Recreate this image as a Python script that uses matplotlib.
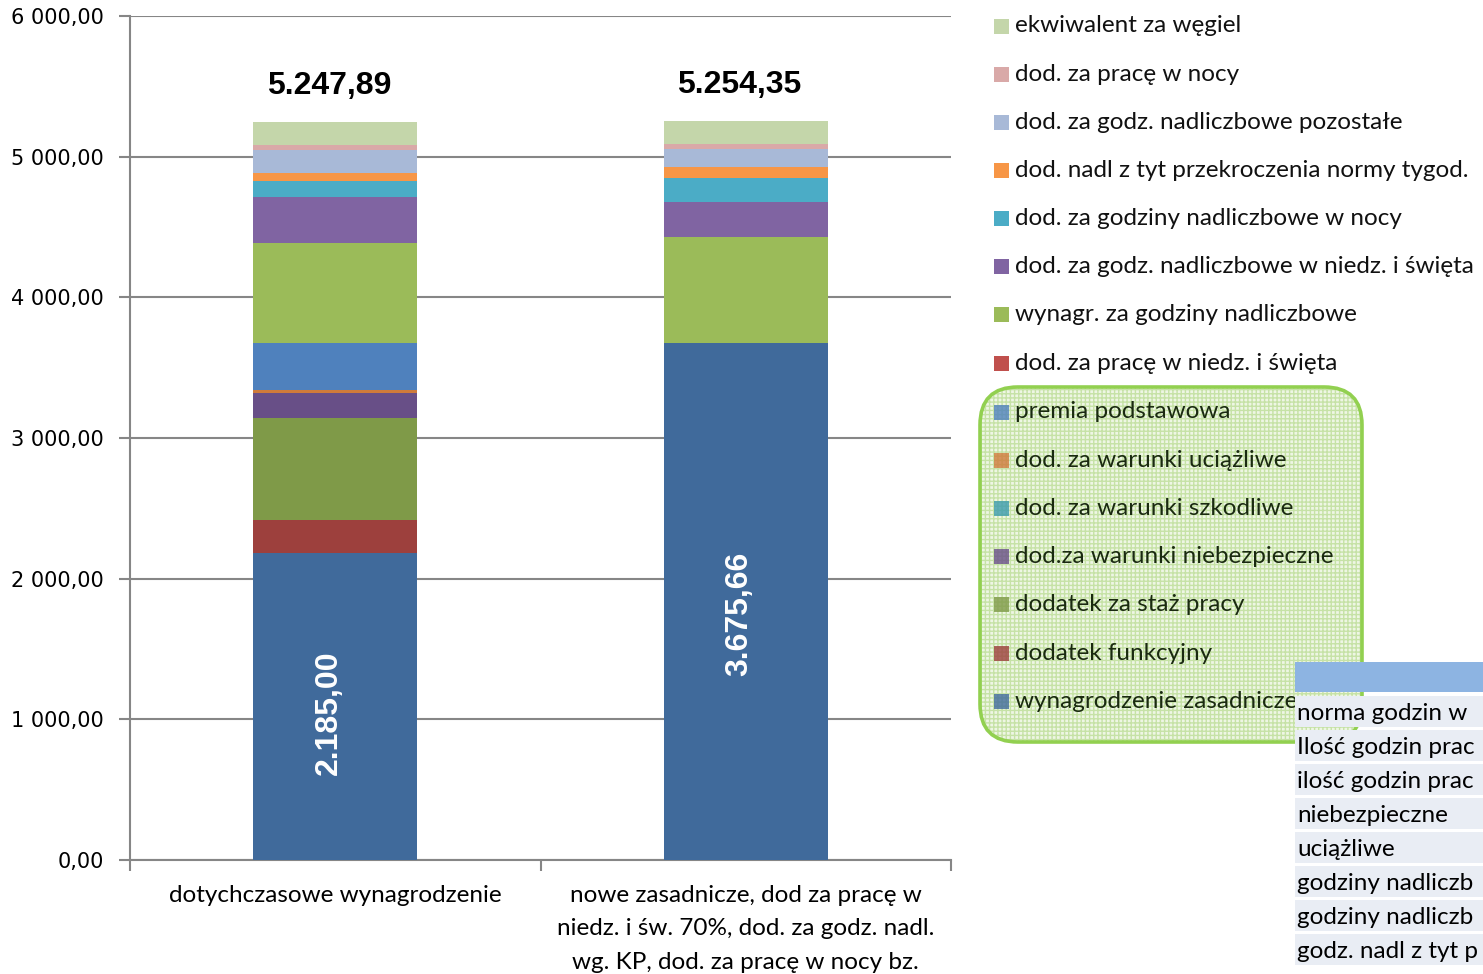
import matplotlib
matplotlib.use("Agg")
import matplotlib.pyplot as plt
from matplotlib.patches import Rectangle, FancyBboxPatch
from matplotlib.transforms import IdentityTransform
from matplotlib.ticker import FuncFormatter
import numpy as np

W, H = 1483, 974

# ── Data ─────────────────────────────────────────────────────────────────────
categories = [
    "dotychczasowe wynagrodzenie",
    "nowe zasadnicze, dod za pracę w\nniedz. i św. 70%, dod. za godz. nadl.\nwg. KP, dod. za pracę w nocy bz.",
]

# stacking order, bottom -> top
components = [
    "wynagrodzenie zasadnicze",
    "dodatek funkcyjny",
    "dodatek za staż pracy",
    "dod.za warunki niebezpieczne",
    "dod. za warunki szkodliwe",
    "dod. za warunki uciążliwe",
    "premia podstawowa",
    "dod. za pracę w niedz. i święta",
    "wynagr. za godziny nadliczbowe",
    "dod. za godz. nadliczbowe w niedz. i święta",
    "dod. za godziny nadliczbowe w nocy",
    "dod. nadl z tyt przekroczenia normy tygod.",
    "dod. za godz. nadliczbowe pozostałe",
    "dod. za pracę w nocy",
    "ekwiwalent za węgiel",
]
old_pay = [2185.00, 232.0, 727.0, 176.0, 0.0, 21.0, 332.0, 0.0,
           716.0, 327.0, 111.0, 55.0, 165.0, 35.0, 165.89]
new_pay = [3675.66, 0.0, 0.0, 0.0, 0.0, 0.0, 0.0, 0.0,
           752.0, 247.0, 171.0, 78.0, 128.0, 36.0, 166.69]
colors = [
    "#406a9b", "#9d403d", "#7f9a48", "#684f87", "#3c9bae", "#cf7b3b",
    "#4f81bd", "#c0504d", "#9bbb59", "#8064a2", "#4bacc6", "#f79646",
    "#a8b9d7", "#d9a9a8", "#c4d6aa",
]

# fragment of a table that sticks out of the right edge of the picture
table_rows = [
    "norma godzin w", "Ilość godzin prac", "ilość godzin prac",
    "niebezpieczne", "uciążliwe", "godziny nadliczb",
    "godziny nadliczb", "godz. nadl z tyt p",
]


def pl_num(v, sep=" "):
    s = f"{v:,.2f}"
    return s.replace(",", "X").replace(".", ",").replace("X", sep)


# ── Figure ───────────────────────────────────────────────────────────────────
fig = plt.figure(figsize=(W / 100, H / 100), dpi=100)
ax = fig.add_axes([130 / W, (H - 860) / H, 821 / W, 844 / H])

x = np.arange(len(categories))
series = np.array([old_pay, new_pay]).T  # rows = components
bottom = np.zeros(len(categories))
for name, vals, col in zip(components, series, colors):
    ax.bar(x, vals, 0.4, bottom=bottom, color=col, label=name, zorder=3)
    bottom += vals

totals = bottom
for xi, t in zip(x, totals):
    ax.text(xi - 0.015, t + 255, pl_num(t, "."), ha="center", va="center",
            fontsize=23, fontweight="bold", family="Liberation Sans", zorder=5)

base = series[0]
for xi, b in zip(x, base):
    ax.text(xi - 0.015, 0.47 * b + 20, pl_num(b, "."), ha="center",
            va="center", rotation=90, color="white", fontsize=23,
            fontweight="bold", family="Liberation Sans", zorder=5)

ax.set_xlim(-0.5, 1.5)
ax.set_ylim(0, 6000)
ax.set_yticks(np.arange(0, 6001, 1000))
ax.yaxis.set_major_formatter(FuncFormatter(lambda v, p: pl_num(v)))
ax.grid(axis="y", color="#868686", linewidth=1.5, zorder=0)
ax.set_axisbelow(True)

for s in ["top", "right"]:
    ax.spines[s].set_visible(False)
for s in ["left", "bottom"]:
    ax.spines[s].set_color("#868686")
    ax.spines[s].set_linewidth(1.5)

ax.tick_params(axis="y", length=8, width=1.5, color="#868686", pad=11,
               labelsize=15)
for lab in ax.get_yticklabels():
    lab.set_family("DejaVu Sans")

ax.set_xticks(x)
ax.set_xticklabels([])
ax.tick_params(axis="x", which="major", length=0)
ax.set_xticks([-0.5, 0.5, 1.5], minor=True)
ax.tick_params(axis="x", which="minor", length=8, width=1.5, color="#868686")

# category labels
for xi, cat in zip(x, categories):
    ax.text(xi, -175, cat, ha="center", va="top", fontsize=17.5, family="Lato",
            linespacing=1.75, clip_on=False)

# ── Legend (manual) ──────────────────────────────────────────────────────────
ident = IdentityTransform()

# green rounded box behind the lower legend group
box_kw = dict(boxstyle="round,pad=0,rounding_size=38", transform=ident)
fig.patches.append(FancyBboxPatch((980, H - 742), 382, 355, facecolor="#eef6e4",
                                  edgecolor="#c6e2a6", hatch="++++",
                                  linewidth=0, **box_kw))
fig.patches.append(FancyBboxPatch((980, H - 742), 382, 355, facecolor="none",
                                  edgecolor="#92d050", linewidth=2.6, **box_kw))

upper = list(range(len(components) - 1, 6, -1))   # ekwiwalent ... pracę w niedz.
lower = list(range(6, -1, -1))                      # premia ... zasadnicze
for i, k in enumerate(upper):
    yc = 26 + 48.15 * i
    fig.patches.append(Rectangle((994, H - yc - 7.5), 15, 15, facecolor=colors[k],
                                 edgecolor="none", transform=ident))
    fig.text(1015 / W, 1 - yc / H, components[k], ha="left", va="center",
             fontsize=17.5, family="Lato", color="#111111")
for i, k in enumerate(lower):
    yc = 412 + 48.2 * i
    fig.patches.append(Rectangle((994, H - yc - 7.5), 15, 15, facecolor=colors[k],
                                 edgecolor="none", alpha=0.8, transform=ident))
    fig.text(1015 / W, 1 - yc / H, components[k], ha="left", va="center",
             fontsize=17.5, family="Lato", color="#1a2a10")

# ── Table fragment in the bottom-right corner ────────────────────────────────
fig.patches.append(Rectangle((1295, H - 692), 200, 30, facecolor="#8db4e2",
                             edgecolor="none", transform=ident, zorder=10))
for i, row in enumerate(table_rows):
    top = 696 + 34 * i
    fig.patches.append(Rectangle((1295, H - top - 31), 200, 31,
                                 facecolor="#e9edf4", edgecolor="none",
                                 transform=ident, zorder=10))
    fig.text(1297 / W, 1 - (top + 17) / H, row, ha="left", va="center",
             fontsize=17.5, family="Lato", color="black", zorder=11)

fig.savefig("out.png", dpi=100)
